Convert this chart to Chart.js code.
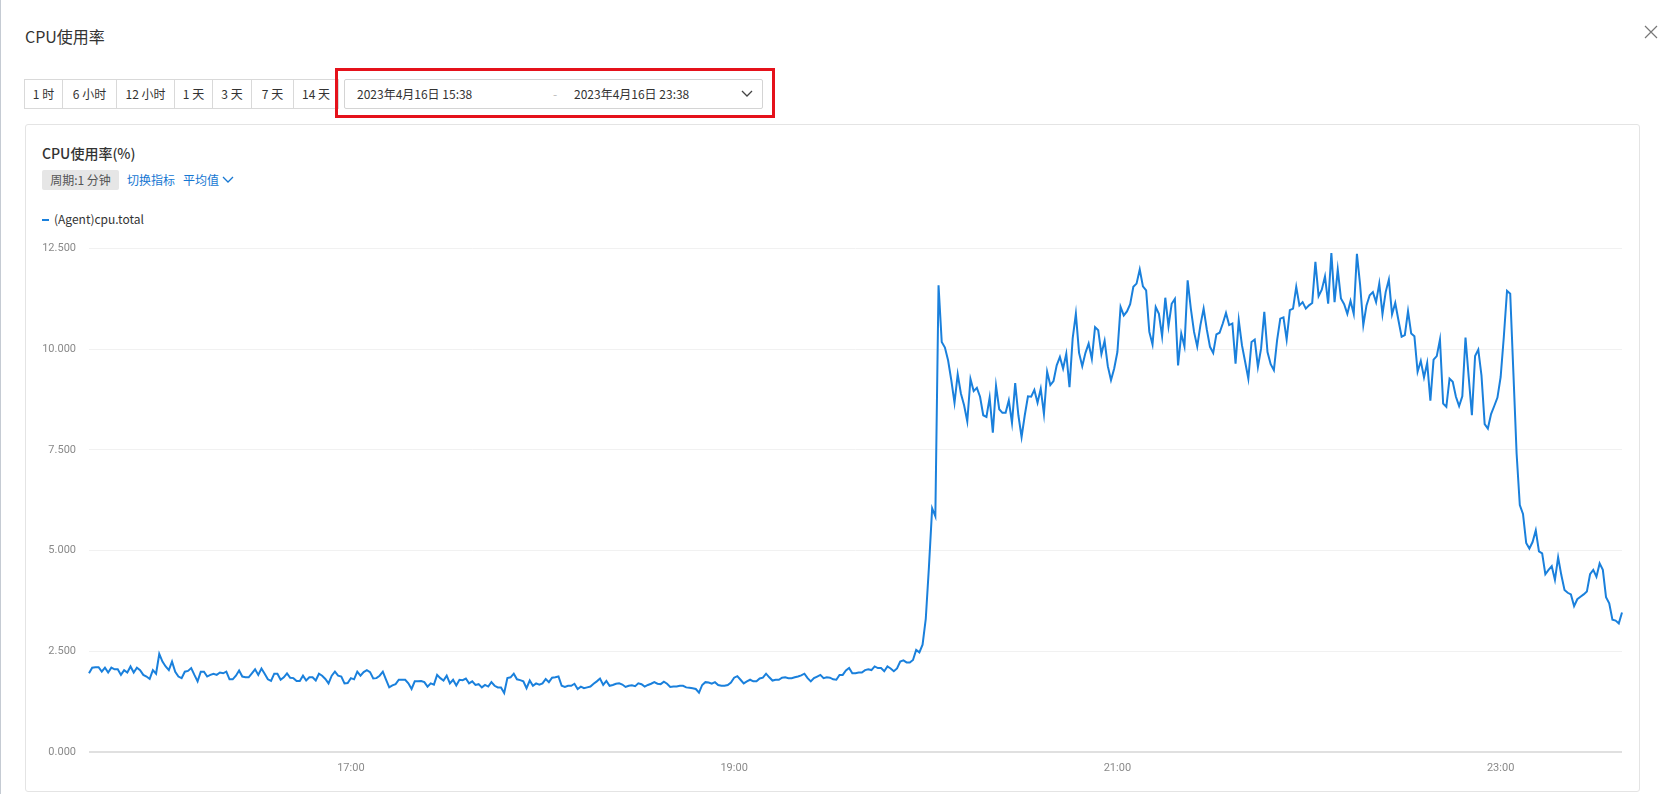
<!DOCTYPE html>
<html>
<head>
<meta charset="utf-8">
<script src="https://cdn.jsdelivr.net/npm/chart.js@4.4.0/dist/chart.umd.min.js"></script>
<style>
  body{margin:0;width:1668px;height:794px;overflow:hidden;background:#fff;position:relative;
       font-family:"Noto Sans CJK SC","Noto Sans",sans-serif;color:#333;}
  .abs{position:absolute;}
  .edge{left:0;top:0;width:1px;height:794px;background:#c5cbd3;}
  .title{left:25px;top:25px;font-size:16px;line-height:22px;}
  .btns{left:25px;top:79px;height:30px;display:flex;}
  .btns div{height:28px;line-height:28px;border:1px solid #d9d9d9;margin-left:-1px;font-size:12px;text-align:center;box-sizing:content-box;}
  .redbox{left:335px;top:68px;width:434px;height:44px;border:3px solid #e5121b;}
  .picker{left:344px;top:79px;width:417px;height:28px;border:1px solid #d4d4d4;border-radius:2px;font-size:12px;line-height:28px;}
  .card{left:25px;top:124px;width:1613px;height:666px;border:1px solid #e4e4e4;border-radius:3px;}
  .ctitle{left:42px;top:143px;font-size:14px;line-height:20px;font-weight:500;}
  .badge{left:42px;top:170px;width:77px;height:20px;line-height:20px;background:#e6e6e6;border-radius:2px;font-size:12px;color:#555;text-align:center;}
  .link{top:170px;font-size:12px;line-height:20px;color:#1677d2;}
  .legend{left:42px;top:210px;font-size:12px;line-height:18px;}
  #wrap{left:30px;top:229px;width:1600px;height:556px;}
</style>
</head>
<body>
<div class="abs edge"></div>
<div class="abs title">CPU使用率</div>
<svg class="abs" style="left:1644px;top:25px" width="14" height="14"><path d="M1 1L13 13M13 1L1 13" stroke="#777" stroke-width="1.2"/></svg>

<div class="abs btns">
  <div style="width:37px">1 时</div>
  <div style="width:53px">6 小时</div>
  <div style="width:57px">12 小时</div>
  <div style="width:37px">1 天</div>
  <div style="width:38px">3 天</div>
  <div style="width:41px">7 天</div>
  <div style="width:44px">14 天</div>
</div>
<div class="abs picker">
  <span class="abs" style="left:12px">2023年4月16日 15:38</span>
  <span class="abs" style="left:208px;color:#bbb">-</span>
  <span class="abs" style="left:229px">2023年4月16日 23:38</span>
  <svg class="abs" style="left:396px;top:10px" width="12" height="8"><path d="M1 1L6 6L11 1" fill="none" stroke="#444" stroke-width="1.3"/></svg>
</div>
<div class="abs redbox"></div>

<div class="abs card"></div>
<div class="abs ctitle">CPU使用率(%)</div>
<div class="abs badge">周期:1 分钟</div>
<div class="abs link" style="left:127px">切换指标</div>
<div class="abs link" style="left:183px">平均值</div>
<svg class="abs" style="left:222px;top:176px" width="12" height="8"><path d="M1 1L6 6L11 1" fill="none" stroke="#1677d2" stroke-width="1.3"/></svg>
<div class="abs legend"><span style="display:inline-block;width:7px;height:2px;background:#1a80dc;vertical-align:middle;margin-right:5px;position:relative;top:-1px"></span>(Agent)cpu.total</div>

<div class="abs" id="wrap"><canvas id="cpuChart" width="1600" height="556"></canvas></div>

<script>
// one value per minute, 15:38 -> 23:38
const startTime = "15:38";
const xTickLabels = ["17:00", "19:00", "21:00", "23:00"];
const yTicks = [0, 2.5, 5, 7.5, 10, 12.5];
const seriesName = "(Agent)cpu.total";

const cpuTotal = [
  1.95,2.09,2.10,2.10,1.99,2.09,1.97,2.09,2.05,2.05,
  1.91,2.03,1.97,2.12,1.97,2.09,2.03,1.91,1.87,1.81,
  2.03,1.94,2.43,2.24,2.12,2.03,2.24,1.99,1.87,1.83,
  1.99,2.01,2.08,1.91,1.75,1.99,1.99,1.87,1.91,1.94,
  1.91,1.97,1.95,1.99,1.80,1.80,1.89,2.02,1.87,1.85,
  1.85,1.95,2.05,1.91,2.07,1.94,1.80,1.76,1.94,1.94,
  1.79,1.85,1.95,1.84,1.83,1.76,1.76,1.89,1.77,1.85,
  1.85,1.77,1.94,1.89,1.81,1.70,1.89,1.99,1.89,1.87,
  1.70,1.71,1.83,1.80,1.99,1.89,1.98,2.03,1.98,1.82,
  1.83,1.89,1.99,1.79,1.60,1.65,1.68,1.79,1.79,1.79,
  1.70,1.56,1.75,1.75,1.76,1.73,1.62,1.70,1.67,1.91,
  1.83,1.77,1.89,1.70,1.79,1.65,1.79,1.78,1.82,1.70,
  1.75,1.66,1.68,1.60,1.66,1.62,1.73,1.64,1.60,1.60,
  1.46,1.83,1.85,1.94,1.80,1.78,1.75,1.58,1.77,1.64,
  1.70,1.67,1.70,1.81,1.73,1.84,1.85,1.87,1.64,1.61,
  1.64,1.64,1.69,1.56,1.62,1.58,1.60,1.62,1.69,1.75,
  1.82,1.66,1.76,1.64,1.66,1.69,1.70,1.67,1.61,1.64,
  1.65,1.63,1.70,1.68,1.62,1.66,1.69,1.73,1.69,1.68,
  1.74,1.69,1.61,1.62,1.62,1.64,1.64,1.60,1.59,1.58,
  1.56,1.47,1.66,1.73,1.72,1.69,1.73,1.66,1.64,1.64,
  1.66,1.72,1.84,1.88,1.79,1.70,1.75,1.79,1.75,1.75,
  1.82,1.84,1.94,1.85,1.77,1.79,1.79,1.84,1.85,1.83,
  1.83,1.85,1.87,1.90,1.94,1.83,1.75,1.83,1.87,1.91,
  1.83,1.85,1.84,1.80,1.79,1.91,1.91,2.02,2.08,1.95,
  1.95,1.97,1.97,2.03,2.05,2.03,2.12,2.08,2.08,2.00,
  2.12,2.07,2.00,2.07,2.24,2.27,2.22,2.22,2.28,2.53,
  2.47,2.66,3.30,4.60,6.05,5.85,11.59,10.18,10.04,9.72,
  9.23,8.67,9.38,8.90,8.61,8.21,9.26,8.96,9.04,8.82,
  8.36,8.32,8.80,7.93,9.09,8.51,8.42,8.42,8.73,8.17,
  9.16,8.36,7.82,8.36,8.83,8.82,8.99,8.67,9.02,8.39,
  9.44,9.11,9.21,9.60,9.81,9.52,9.89,9.06,10.27,10.88,
  9.91,9.58,9.91,10.14,9.76,10.55,10.47,9.88,10.21,9.58,
  9.23,9.52,9.93,11.05,10.84,10.94,11.12,11.55,11.63,11.98,
  11.56,11.46,10.43,10.12,11.05,10.88,10.32,11.28,10.57,11.13,
  11.25,9.60,10.39,10.07,11.71,11.01,10.43,10.07,10.60,11.01,
  10.49,10.06,9.91,10.37,10.41,10.64,10.90,10.60,10.64,9.64,
  10.72,10.10,9.69,9.27,10.18,10.24,9.56,10.02,10.93,9.93,
  9.63,9.48,10.22,10.76,10.79,10.24,10.97,11.01,11.55,11.09,
  11.17,11.01,11.09,11.15,12.17,11.32,11.48,11.81,11.13,12.39,
  11.17,11.98,11.26,11.12,10.88,11.20,10.88,12.37,11.60,10.60,
  11.09,11.34,11.42,11.17,11.63,10.87,11.42,11.73,10.87,11.15,
  10.72,10.31,10.35,10.95,10.39,10.32,9.44,9.71,9.30,9.66,
  8.72,9.74,9.83,10.24,8.65,8.57,9.27,9.19,8.82,8.59,
  8.83,10.29,9.31,8.36,9.83,9.99,9.35,8.14,8.03,8.39,
  8.59,8.80,9.31,10.31,11.45,11.38,9.40,7.41,6.13,5.91,
  5.19,5.05,5.21,5.50,4.98,4.93,4.41,4.52,4.61,4.27,
  4.83,4.39,4.02,3.95,3.91,3.62,3.79,3.85,3.91,3.98,
  4.41,4.52,4.35,4.68,4.52,3.84,3.69,3.28,3.26,3.19,
  3.46
];

// minute labels for the category axis
const labels = [];
let [hh, mm] = startTime.split(":").map(Number);
for (let i = 0; i < cpuTotal.length; i++) {
  labels.push(String(hh).padStart(2, "0") + ":" + String(mm).padStart(2, "0"));
  mm++;
  if (mm === 60) { mm = 0; hh++; }
}

Chart.defaults.font.family = "Roboto, 'Noto Sans', sans-serif";
Chart.defaults.font.size = 11;
Chart.defaults.color = "#8a8a8a";

new Chart(document.getElementById("cpuChart"), {
  type: "line",
  data: {
    labels: labels,
    datasets: [{
      label: seriesName,
      data: cpuTotal,
      borderColor: "#1a80dc",
      borderWidth: 2,
      pointRadius: 0,
      tension: 0,
      fill: false
    }]
  },
  options: {
    responsive: false,
    animation: false,
    devicePixelRatio: 1,
    layout: {padding: {top: 7, right: 8, left: 0, bottom: 0}},
    plugins: {legend: {display: false}, tooltip: {enabled: false}},
    scales: {
      x: {
        grid: {display: false, drawTicks: false},
        border: {display: false},
        ticks: {
          autoSkip: false,
          maxRotation: 0,
          padding: 10,
          callback: function(v){
            const l = this.getLabelForValue(v);
            return xTickLabels.includes(l) ? l : null;
          }
        }
      },
      y: {
        min: yTicks[0],
        max: yTicks[yTicks.length - 1],
        afterBuildTicks: s => { s.ticks = yTicks.map(v => ({value: v})); },
        afterFit: s => { s.width = 59; },
        border: {display: false},
        grid: {
          drawTicks: false,
          color: c => c.tick.value === 0 ? "#e0e0e0" : "#f1f1f1",
          lineWidth: c => c.tick.value === 0 ? 2 : 1
        },
        ticks: {padding: 13, callback: v => v.toFixed(3)}
      }
    }
  }
});
</script>
</body>
</html>
